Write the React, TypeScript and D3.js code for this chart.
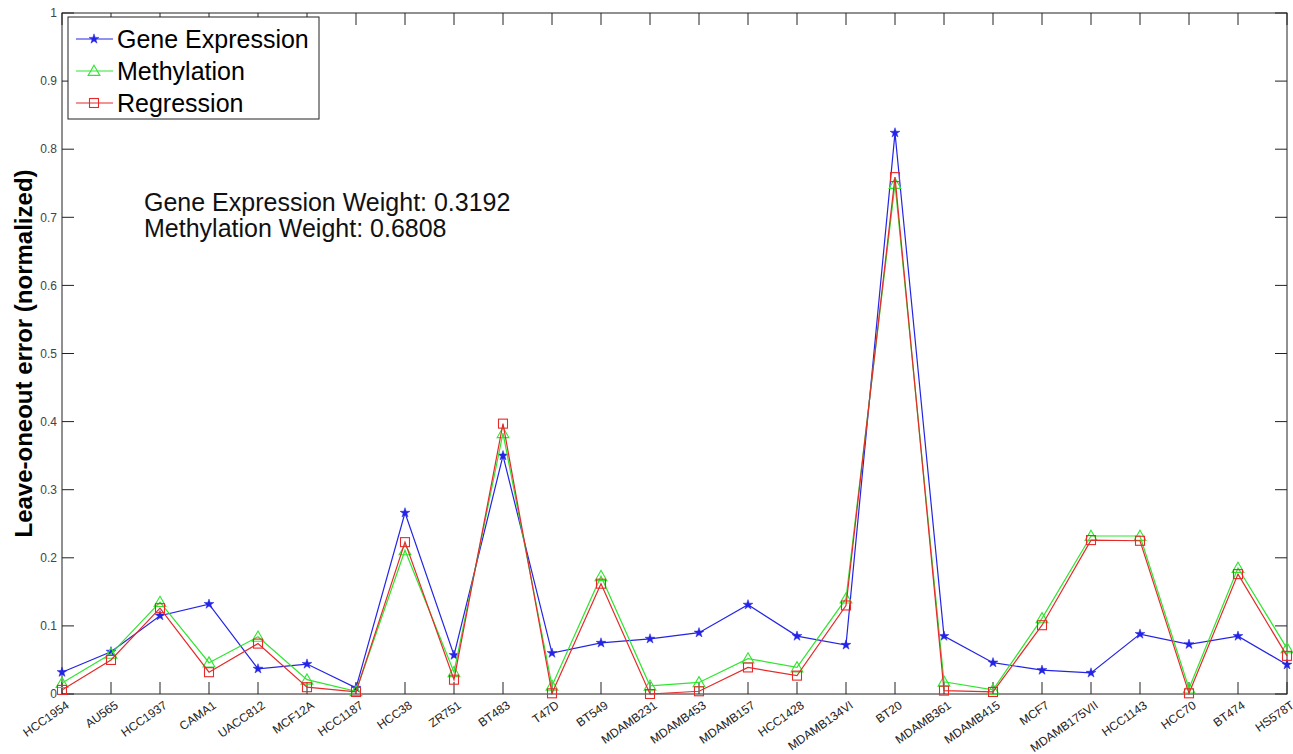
import React from "react";
import * as d3 from "d3";

const categories = [
  "HCC1954", "AU565", "HCC1937", "CAMA1", "UACC812", "MCF12A", "HCC1187", "HCC38",
  "ZR751", "BT483", "T47D", "BT549", "MDAMB231", "MDAMB453", "MDAMB157", "HCC1428",
  "MDAMB134VI", "BT20", "MDAMB361", "MDAMB415", "MCF7", "MDAMB175VII", "HCC1143",
  "HCC70", "BT474", "HS578T",
];

const geneExpression = [
  0.032, 0.062, 0.115, 0.132, 0.037, 0.044, 0.009, 0.266, 0.057, 0.35, 0.06, 0.075,
  0.081, 0.09, 0.131, 0.085, 0.072, 0.824, 0.085, 0.046, 0.035, 0.031, 0.088, 0.073,
  0.085, 0.043,
];

const methylation = [
  0.016, 0.059, 0.135, 0.046, 0.084, 0.021, 0.004, 0.211, 0.032, 0.383, 0.012, 0.173,
  0.012, 0.017, 0.052, 0.039, 0.14, 0.749, 0.018, 0.006, 0.111, 0.232, 0.232, 0.008,
  0.185, 0.067,
];

const regression = [
  0.006, 0.05, 0.126, 0.032, 0.074, 0.01, 0.003, 0.223, 0.021, 0.397, 0.001, 0.162,
  0.0, 0.004, 0.039, 0.027, 0.13, 0.759, 0.005, 0.003, 0.101, 0.226, 0.225, 0.001,
  0.176, 0.056,
];

const yTicks = [0, 0.1, 0.2, 0.3, 0.4, 0.5, 0.6, 0.7, 0.8, 0.9, 1];
const yTickLabels = ["0", "0.1", "0.2", "0.3", "0.4", "0.5", "0.6", "0.7", "0.8", "0.9", "1"];

const weightLines = ["Gene Expression Weight: 0.3192", "Methylation Weight: 0.6808"];

const W = 1293;
const H = 754;
const left = 62;
const right = 1287;
const top = 13;
const bottom = 694;
const tickLen = 12;
const font = "'Liberation Sans', Arial, sans-serif";

const BLUE = "#2424e6";
const GREEN = "#2ee62e";
const RED = "#e62a2a";

type Marker = "star" | "triangle" | "square";

const seriesList: { name: string; values: number[]; color: string; marker: Marker }[] = [
  { name: "Gene Expression", values: geneExpression, color: BLUE, marker: "star" },
  { name: "Methylation", values: methylation, color: GREEN, marker: "triangle" },
  { name: "Regression", values: regression, color: RED, marker: "square" },
];

function MarkerShape({ type, x, y, color }: { type: Marker; x: number; y: number; color: string }) {
  if (type === "star") {
    const p = d3.symbol().type(d3.symbolStar).size(30)();
    return <path d={p || ""} transform={`translate(${x},${y})`} fill={color} stroke={color} strokeWidth={0.5} />;
  }
  if (type === "triangle") {
    const p = d3.symbol().type(d3.symbolTriangle).size(60)();
    return <path d={p || ""} transform={`translate(${x},${y + 1})`} fill="none" stroke={color} strokeWidth={1.1} />;
  }
  return <rect x={x - 4.5} y={y - 4.5} width={9} height={9} fill="none" stroke={color} strokeWidth={1.1} />;
}

export default function App() {
  const x = d3.scalePoint<string>().domain(categories).range([left, right]);
  const y = d3.scaleLinear().domain([0, 1]).range([bottom, top]);

  const line = (vals: number[]) =>
    d3
      .line<number>()
      .x((_, i) => x(categories[i]) as number)
      .y((v) => y(v))(vals) || "";

  const legendX = 68;
  const legendY = 17;
  const legendW = 251;
  const legendH = 102;

  return (
    <svg width={W} height={H} style={{ position: "absolute", left: 0, top: 0, background: "#fff" }}>
      <rect x={0} y={0} width={W} height={H} fill="#fff" />

      {/* plot frame */}
      <rect x={left} y={top} width={right - left} height={bottom - top} fill="none" stroke="#222" strokeWidth={1} />

      {/* y ticks, left and right, pointing inward */}
      {yTicks.map((t, i) => (
        <g key={`yt${i}`}>
          <line x1={left} x2={left + tickLen} y1={y(t)} y2={y(t)} stroke="#222" />
          <line x1={right} x2={right - tickLen} y1={y(t)} y2={y(t)} stroke="#222" />
          <text
            x={left - 5}
            y={y(t)}
            dy="0.35em"
            textAnchor="end"
            fontFamily={font}
            fontSize={12}
            fill="#444"
          >
            {yTickLabels[i]}
          </text>
        </g>
      ))}

      {/* x ticks, bottom and top, pointing inward */}
      {categories.map((c) => {
        const cx = x(c) as number;
        return (
          <g key={`xt${c}`}>
            <line x1={cx} x2={cx} y1={bottom} y2={bottom - tickLen} stroke="#222" />
            <line x1={cx} x2={cx} y1={top} y2={top + tickLen} stroke="#222" />
            <text
              transform={`translate(${cx + 3},${bottom + 6}) rotate(-35)`}
              textAnchor="end"
              dy="0.72em"
              fontFamily={font}
              fontSize={12}
              fill="#222"
            >
              {c}
            </text>
          </g>
        );
      })}

      {/* series lines and markers */}
      {seriesList.map((s) => (
        <g key={s.name}>
          <path d={line(s.values)} fill="none" stroke={s.color} strokeWidth={1.2} />
          {s.values.map((v, i) => (
            <MarkerShape key={i} type={s.marker} x={x(categories[i]) as number} y={y(v)} color={s.color} />
          ))}
        </g>
      ))}

      {/* y axis title */}
      <text
        transform={`translate(32,${(top + bottom) / 2}) rotate(-90)`}
        textAnchor="middle"
        fontFamily={font}
        fontWeight="bold"
        fontSize={24}
        fill="#000"
      >
        Leave-oneout error (normalized)
      </text>

      {/* weights annotation */}
      {weightLines.map((t, i) => (
        <text key={t} x={144} y={211 + i * 26} fontFamily={font} fontSize={25} fill="#111">
          {t}
        </text>
      ))}

      {/* legend */}
      <rect x={legendX} y={legendY} width={legendW} height={legendH} fill="#fff" stroke="#222" strokeWidth={1} />
      {seriesList.map((s, i) => {
        const ly = legendY + 22 + i * 32;
        return (
          <g key={`lg${s.name}`}>
            <line x1={legendX + 8} x2={legendX + 45} y1={ly} y2={ly} stroke={s.color} strokeWidth={1.2} />
            <MarkerShape type={s.marker} x={legendX + 26} y={ly} color={s.color} />
            <text x={legendX + 49} y={ly} dy="0.36em" fontFamily={font} fontSize={25} fill="#000">
              {s.name}
            </text>
          </g>
        );
      })}
    </svg>
  );
}
